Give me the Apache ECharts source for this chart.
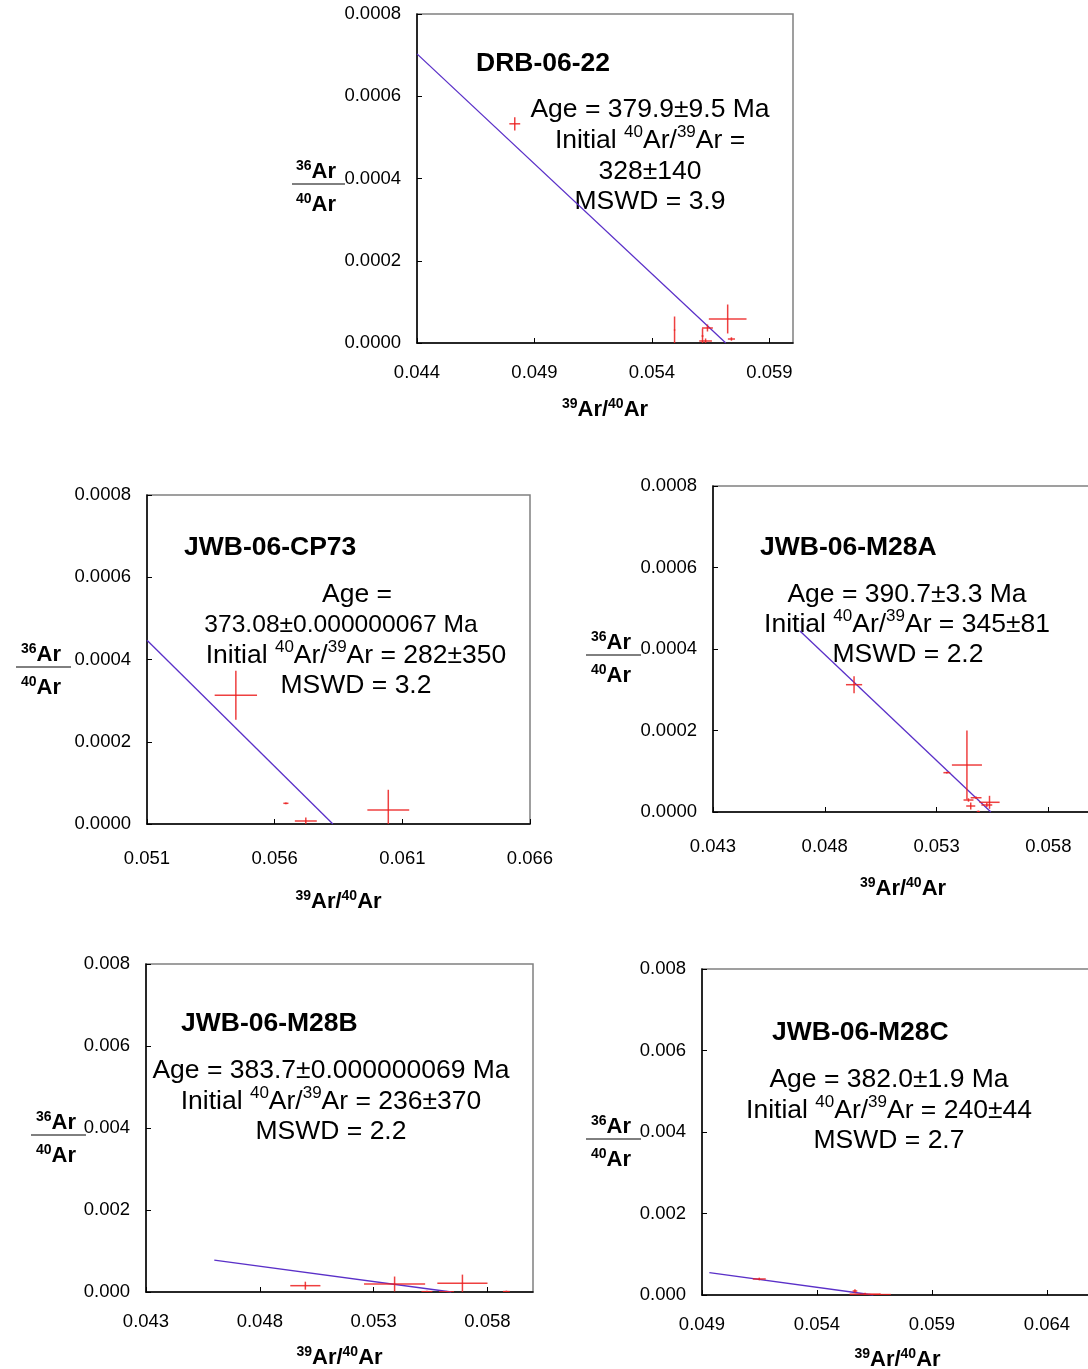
<!DOCTYPE html>
<html>
<head>
<meta charset="utf-8">
<script src="https://cdn.jsdelivr.net/npm/echarts@6/dist/echarts.min.js"></script>
<style>
html,body{margin:0;padding:0;background:#fff;}
#chart{width:1088px;height:1369px;}
</style>
</head>
<body>
<div id="chart"></div>
<script>
// ---------- DATA ----------
const panelTitles = ['DRB-06-22', 'JWB-06-CP73', 'JWB-06-M28A', 'JWB-06-M28B', 'JWB-06-M28C'];

const xTickStart = [0.044, 0.051, 0.043, 0.043, 0.049];
const xTickEnd   = [0.060, 0.066, 0.060, 0.060, 0.066];
const yTickMax   = [0.0008, 0.0008, 0.0008, 0.008, 0.008];

// Panel 1: DRB-06-22
const p1X  = [0.04816, 0.05496, 0.05722, 0.05636, 0.05628, 0.05615, 0.05738];
const p1Y  = [0.000533, 0.0000316, 0.0000584, 0.0000365, 0.0000049, 0.000017, 0.0000097];
const p1EX = [0.00021, 0.00001, 0.00078, 0.00021, 0.00025, 0.00002, 0.00013];
const p1EY = [0.000015, 0.0000316, 0.000034, 0.0000073, 0.0000049, 0.000017, 0.000003];
const p1LineX = [0.044, 0.05714];
const p1LineY = [0.000703, 0];

// Panel 2: JWB-06-CP73
const p2X  = [0.05448, 0.05644, 0.05722, 0.06045];
const p2Y  = [0.000313, 0.0000503, 0.0000073, 0.000034];
const p2EX = [0.00081, 0.00008, 0.00041, 0.0008];
const p2EY = [0.0000584, 0.000001, 0.0000073, 0.000048];
const p2LineX = [0.051, 0.05828];
const p2LineY = [0.000447, 0];

// Panel 3: JWB-06-M28A
const p3X  = [0.04931, 0.05436, 0.05346, 0.05443, 0.05477, 0.05453, 0.05537, 0.05525, 0.05487];
const p3Y  = [0.0003124, 0.0001153, 0.0000965, 0.0000294, 0.000035, 0.0000147, 0.0000238, 0.0000172, 0.000001];
const p3EX = [0.00034, 0.00065, 0.00013, 0.0002, 0.00022, 0.00018, 0.00043, 0.00022, 0.00005];
const p3EY = [0.0000196, 0.0000834, 0.000001, 0.000003, 0.000002, 0.0000074, 0.0000147, 0.000004, 0.000001];
const p3LineX = [0.04689, 0.05543];
const p3LineY = [0.000444, 0];

// Panel 4: JWB-06-M28B
const p4X  = [0.05, 0.05392, 0.0569, 0.05534, 0.0562, 0.05883];
const p4Y  = [0.000154, 0.000195, 0.000212, 0.000008, 0.000004, 0.00001];
const p4EX = [0.00064, 0.00132, 0.00108, 0.00022, 0.00031, 0.00013];
const p4EY = [0.000085, 0.00017, 0.0002, 0.00001, 0.00001, 0.00001];
const p4LineX = [0.046, 0.05641];
const p4LineY = [0.00078, 0];

// Panel 5: JWB-06-M28C
const p5X  = [0.05149, 0.05565, 0.05609, 0.05674];
const p5Y  = [0.000393, 0.0000982, 0.00002, 0.00001];
const p5EX = [0.00026, 0.00008, 0.00065, 0.00045];
const p5EY = [0.00002, 0.00003, 0.00002, 0.00001];
const p5LineX = [0.04932, 0.05645];
const p5LineY = [0.000547, 0];

// Annotation text lines ({s|..} = superscript)
const p1Notes = ['Age = 379.9±9.5 Ma', 'Initial {s|40}Ar/{s|39}Ar =', '328±140', 'MSWD = 3.9'];
const p2Notes = ['Age =', '373.08±0.000000067 Ma', 'Initial {s|40}Ar/{s|39}Ar = 282±350', 'MSWD = 3.2'];
const p3Notes = ['Age = 390.7±3.3 Ma', 'Initial {s|40}Ar/{s|39}Ar = 345±81', 'MSWD = 2.2'];
const p4Notes = ['Age = 383.7±0.000000069 Ma', 'Initial {s|40}Ar/{s|39}Ar = 236±370', 'MSWD = 2.2'];
const p5Notes = ['Age = 382.0±1.9 Ma', 'Initial {s|40}Ar/{s|39}Ar = 240±44', 'MSWD = 2.7'];

// ---------- LAYOUT ----------
const FONT = "'Liberation Sans', Arial, sans-serif";
const grids = [
  {left: 417, top: 14,  width: 376, height: 329},
  {left: 147, top: 495, width: 383, height: 329},
  {left: 713, top: 486, width: 380, height: 326},
  {left: 146, top: 964, width: 387, height: 328},
  {left: 702, top: 969, width: 391, height: 326}
];
const labelMargin = [20, 25, 25, 20, 20];
const nameGap = [54, 65, 64, 53, 52];
const yDigits = [4, 4, 4, 3, 3];
const showMax = [false, true, false, false, false];

const panels = [
  {x: p1X, y: p1Y, ex: p1EX, ey: p1EY, lx: p1LineX, ly: p1LineY},
  {x: p2X, y: p2Y, ex: p2EX, ey: p2EY, lx: p2LineX, ly: p2LineY},
  {x: p3X, y: p3Y, ex: p3EX, ey: p3EY, lx: p3LineX, ly: p3LineY},
  {x: p4X, y: p4Y, ex: p4EX, ey: p4EY, lx: p4LineX, ly: p4LineY},
  {x: p5X, y: p5Y, ex: p5EX, ey: p5EY, lx: p5LineX, ly: p5LineY}
];

const notePos = [
  {xs: [650, 650, 650, 650], ys: [108, 139, 170, 200], fs: [26.5, 26.5, 26.5, 26.5]},
  {xs: [357, 341, 356, 356], ys: [593, 623, 654, 684], fs: [26.5, 24.6, 26.5, 26.5]},
  {xs: [907, 907, 908], ys: [593, 623, 653], fs: [26.5, 26.5, 26.5]},
  {xs: [331, 331, 331], ys: [1069, 1100, 1130], fs: [26.5, 26.5, 26.5]},
  {xs: [889, 889, 889], ys: [1078, 1109, 1139], fs: [26.5, 26.5, 26.5]}
];
const titlePos = [[476, 64], [184, 548], [760, 548], [181, 1024], [772, 1033]];
const fracPos = [
  {cx: 316, y: 184, x1: 292, x2: 345},
  {cx: 41, y: 667, x1: 16, x2: 71},
  {cx: 611, y: 655, x1: 586, x2: 641},
  {cx: 56, y: 1135, x1: 31, x2: 86},
  {cx: 611, y: 1139, x1: 586, x2: 641}
];

const CROSS = 'rgba(235,30,30,0.85)';
const LINEC = '#5a30c8';

function renderCross(params, api) {
  const x = api.value(0), y = api.value(1), ex = api.value(2), ey = api.value(3);
  const l = api.coord([x - ex, y]), r = api.coord([x + ex, y]);
  const t = api.coord([x, y + ey]), b = api.coord([x, y - ey]);
  const st = {stroke: CROSS, lineWidth: 1.5};
  return {
    type: 'group',
    children: [
      {type: 'line', shape: {x1: l[0] - 0.5, y1: l[1], x2: r[0] + 0.5, y2: r[1]}, style: st},
      {type: 'line', shape: {x1: t[0], y1: t[1] - 0.5, x2: b[0], y2: b[1] + 0.5}, style: st}
    ]
  };
}

const xAxes = [], yAxes = [], series = [], graphics = [];
const supRich = {
  s: {fontSize: 14, fontWeight: 'bold', fontFamily: FONT, verticalAlign: 'top', lineHeight: 14, color: '#000'},
  b: {fontSize: 22, fontWeight: 'bold', fontFamily: FONT, verticalAlign: 'bottom', lineHeight: 24, color: '#000'}
};

grids.forEach((g, i) => {
  xAxes.push({
    type: 'value', gridIndex: i,
    min: xTickStart[i], max: xTickEnd[i], interval: 0.005,
    name: '{s|39}{b|Ar/}{s|40}{b|Ar}', nameLocation: 'middle', nameGap: nameGap[i],
    nameTextStyle: {rich: supRich},
    axisLine: {show: true, onZero: false, lineStyle: {color: '#000', width: 1.5}},
    axisTick: {show: true, inside: true, length: 5, lineStyle: {color: '#000', width: 1}},
    axisLabel: {
      showMaxLabel: showMax[i], showMinLabel: true,
      margin: labelMargin[i], fontSize: 18.5, fontFamily: FONT, color: '#000',
      formatter: v => v.toFixed(3)
    },
    splitLine: {show: false}
  });
  yAxes.push({
    type: 'value', gridIndex: i,
    min: 0, max: yTickMax[i], interval: yTickMax[i] / 4,
    axisLine: {show: true, onZero: false, lineStyle: {color: '#000', width: 1.5}},
    axisTick: {show: true, inside: true, length: 5, lineStyle: {color: '#000', width: 1}},
    axisLabel: {
      margin: 16, fontSize: 18.5, fontFamily: FONT, color: '#000',
      formatter: v => v.toFixed(yDigits[i])
    },
    splitLine: {show: false}
  });
  const p = panels[i];
  series.push({
    type: 'line', xAxisIndex: i, yAxisIndex: i,
    data: p.lx.map((x, k) => [x, p.ly[k]]),
    symbol: 'none', lineStyle: {color: LINEC, width: 1.3}, silent: true, z: 3
  });
  series.push({
    type: 'custom', xAxisIndex: i, yAxisIndex: i,
    data: p.x.map((x, k) => [x, p.y[k], p.ex[k], p.ey[k]]),
    renderItem: renderCross, clip: true, silent: true, z: 4
  });

  // title
  graphics.push({
    type: 'text', x: titlePos[i][0], y: titlePos[i][1],
    style: {text: panelTitles[i], fontSize: 26.5, fontWeight: 'bold', fontFamily: FONT, fill: '#000',
            align: 'left', verticalAlign: 'middle'}
  });
  // notes
  const notes = [p1Notes, p2Notes, p3Notes, p4Notes, p5Notes][i];
  notes.forEach((t, k) => {
    const fs = notePos[i].fs[k];
    graphics.push({
      type: 'text', x: notePos[i].xs[k], y: notePos[i].ys[k],
      style: {
        text: '{n|' + t.replace(/\{s\|(\d+)\}/g, '}{s|$1}{n|') + '}',
        rich: {
          n: {fontSize: fs, fontFamily: FONT, fill: '#000', verticalAlign: 'bottom', lineHeight: 30},
          s: {fontSize: 17, fontFamily: FONT, fill: '#000', verticalAlign: 'top', lineHeight: 17}
        },
        align: 'center', verticalAlign: 'middle'
      }
    });
  });
  // y axis fraction label
  const f = fracPos[i];
  const fr = {
    s: {fontSize: 14, fontWeight: 'bold', fontFamily: FONT, fill: '#000', verticalAlign: 'top', lineHeight: 14},
    b: {fontSize: 22, fontWeight: 'bold', fontFamily: FONT, fill: '#000', verticalAlign: 'bottom', lineHeight: 24}
  };
  graphics.push({
    type: 'text', x: f.cx, y: f.y - 1,
    style: {text: '{s|36}{b|Ar}', rich: fr, align: 'center', verticalAlign: 'bottom'}
  });
  graphics.push({
    type: 'line', shape: {x1: f.x1, y1: f.y, x2: f.x2, y2: f.y},
    style: {stroke: '#000', lineWidth: 1}
  });
  graphics.push({
    type: 'text', x: f.cx, y: f.y + 8,
    style: {text: '{s|40}{b|Ar}', rich: fr, align: 'center', verticalAlign: 'top'}
  });
});

const chart = echarts.init(document.getElementById('chart'), null, {renderer: 'canvas'});
chart.setOption({
  animation: false,
  backgroundColor: '#fff',
  grid: grids.map(g => Object.assign({show: true, borderColor: '#808080', borderWidth: 1.5,
    backgroundColor: 'transparent', containLabel: false, outerBoundsMode: 'none'}, g)),
  xAxis: xAxes,
  yAxis: yAxes,
  series: series,
  graphic: {elements: graphics}
});
</script>
</body>
</html>
